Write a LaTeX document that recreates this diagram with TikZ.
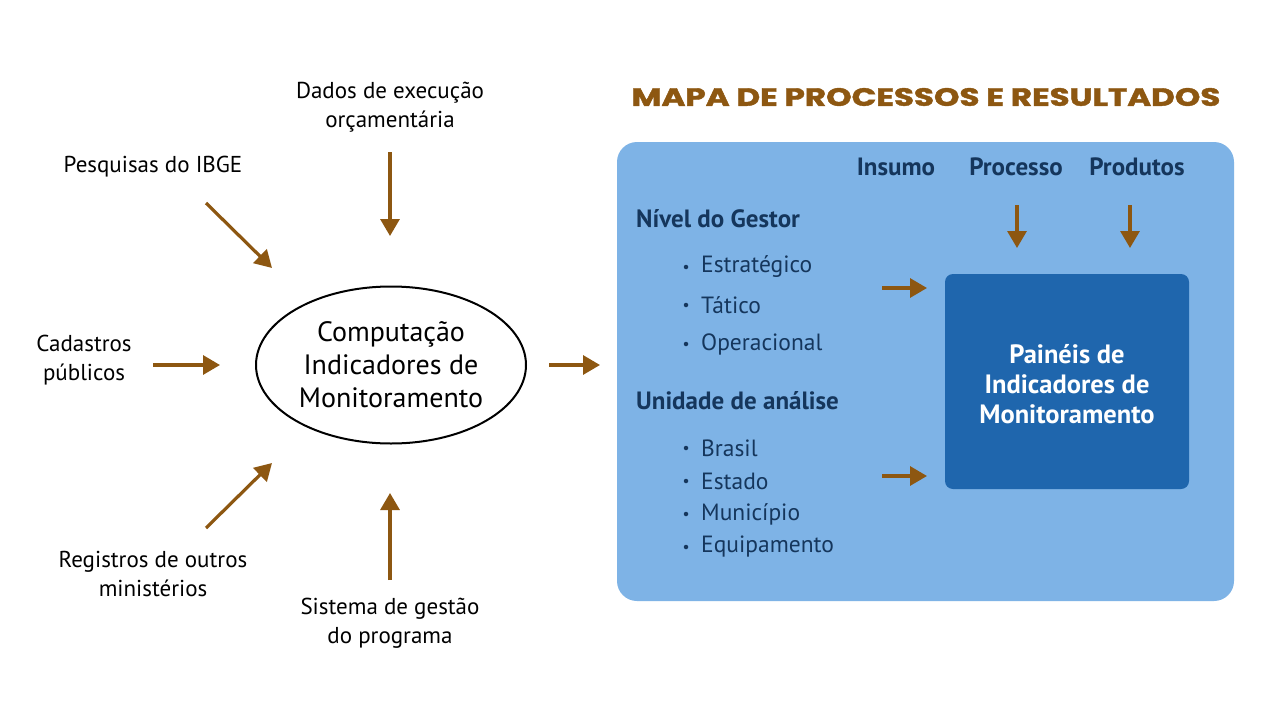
\documentclass[tikz,border=0pt]{standalone}
\usepackage{fontspec}
\setmainfont{PT Sans}
\newfontfamily\titlefont{Poppins}[BoldFeatures={FakeBold=1.5}]
\usetikzlibrary{arrows.meta,shapes.geometric}
\definecolor{arrowbrown}{HTML}{8D5711}
\definecolor{panelblue}{HTML}{7EB3E6}
\definecolor{darkpanel}{HTML}{1F66AD}
\definecolor{navytext}{HTML}{15365C}
\tikzset{
  brownarrow/.style={draw=arrowbrown,line width=3.2pt,-{Triangle[length=17pt,width=19pt]}},
  srclabel/.style={align=center,font=\fontsize{23}{29}\selectfont,text=black,inner sep=0pt},
  header/.style={font=\bfseries\fontsize{25}{26}\selectfont,text=navytext,inner sep=0pt},
  itemtext/.style={anchor=west,font=\fontsize{23.5}{25}\selectfont,text=navytext,inner sep=0pt},
  bulletdot/.style={circle,fill=navytext,inner sep=0pt,minimum size=4.5pt},
}
\begin{document}
\begin{tikzpicture}[x=1pt,y=-1pt]
\useasboundingbox (0,0) rectangle (1280,720);
\fill[white] (0,0) rectangle (1280,720);

% central ellipse
\node[ellipse,draw=black,line width=2pt,minimum width=270pt,minimum height=157pt,inner sep=0pt,
  align=center,font=\fontsize{28}{33}\selectfont] (comp) at (391,365) {Computação\\Indicadores de\\Monitoramento};

% source labels
\node[srclabel] (dados) at (390,107) {Dados de execução\\orçamentária};
\node[srclabel] (ibge) at (153,167) {Pesquisas do IBGE};
\node[srclabel] (cad) at (84,360) {Cadastros\\públicos};
\node[srclabel] (reg) at (153,574) {Registros de outros\\ministérios};
\node[srclabel] (sis) at (390,623) {Sistema de gestão\\do programa};

% arrow coordinates
\coordinate (dadosS) at (390,152); \coordinate (dadosE) at (390,236);
\coordinate (ibgeS) at (206,203); \coordinate (ibgeE) at (272,268);
\coordinate (cadS) at (153,365); \coordinate (cadE) at (220,365);
\coordinate (regS) at (206,528); \coordinate (regE) at (272,463);
\coordinate (sisS) at (390,580); \coordinate (sisE) at (390,493);
\coordinate (outS) at (549,365); \coordinate (outE) at (600,365);

\draw[brownarrow] (dadosS) -- (dadosE);
\draw[brownarrow] (ibgeS) -- (ibgeE);
\draw[brownarrow] (cadS) -- (cadE);
\draw[brownarrow] (regS) -- (regE);
\draw[brownarrow] (sisS) -- (sisE);
\draw[brownarrow] (outS) -- (outE);

% title
\node[inner sep=0pt,text=arrowbrown,font=\titlefont\bfseries\fontsize{25}{30}\selectfont] (title) at (926,97) {\scalebox{1.3}[1]{MAPA DE PROCESSOS E RESULTADOS}};

% panel
\fill[panelblue,rounded corners=20pt] (617,142) rectangle (1234,601);
\node[fill=darkpanel,rounded corners=8pt,minimum width=244pt,minimum height=215pt,inner sep=0pt] (painel) at (1067,381.5) {};
\node[align=center,text=white,font=\bfseries\fontsize{26.5}{30}\selectfont,inner sep=0pt] (paineltxt) at (1067,384) {Painéis de\\Indicadores de\\Monitoramento};

% column headers
\node[header] (insumo) at (896,167) {Insumo};
\node[header] (processo) at (1016,167) {Processo};
\node[header] (produtos) at (1137,167) {Produtos};

\coordinate (procS) at (1017,205); \coordinate (procE) at (1017,248);
\coordinate (prodS) at (1130,205); \coordinate (prodE) at (1130,248);
\draw[brownarrow] (procS) -- (procE);
\draw[brownarrow] (prodS) -- (prodE);

% left headers
\node[header,anchor=west] (nivel) at (636,219) {Nível do Gestor};
\node[header,anchor=west] (unidade) at (636,401) {Unidade de análise};

% items
\foreach \name/\txt/\yy in {estr/Estratégico/267, tat/Tático/305, oper/Operacional/344,
   bras/Brasil/448, est/Estado/481, mun/Município/514, equip/Equipamento/547} {
  \node[bulletdot] (b\name) at (686,\yy) {};
  \node[itemtext] (\name) at (701,\yy) {\txt};
}

\coordinate (n1S) at (882,288); \coordinate (n1E) at (927,288);
\coordinate (n2S) at (882,476); \coordinate (n2E) at (927,476);
\draw[brownarrow] (n1S) -- (n1E);
\draw[brownarrow] (n2S) -- (n2E);
\end{tikzpicture}
\end{document}
